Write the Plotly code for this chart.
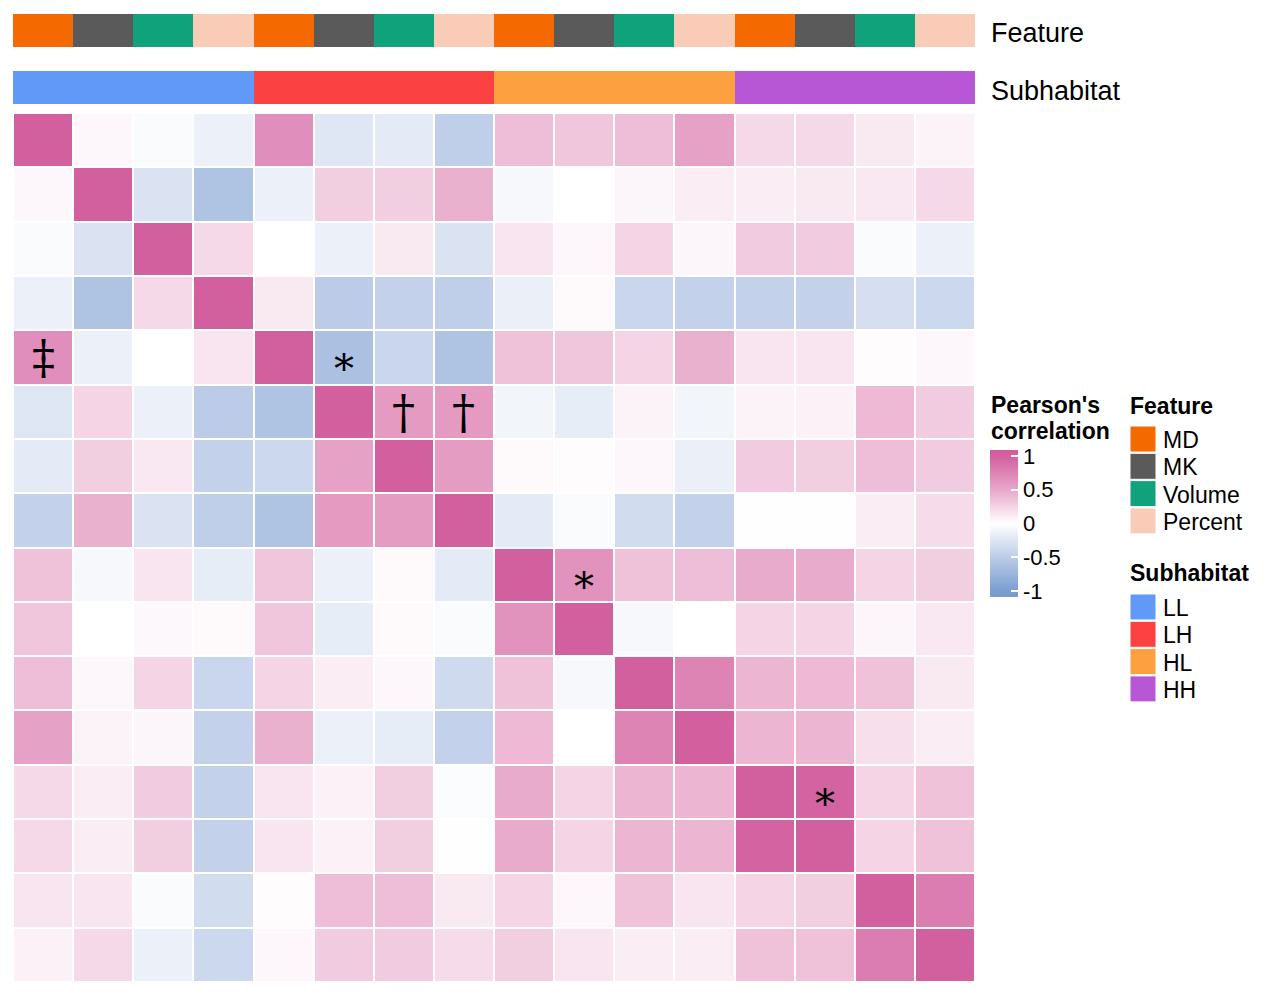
import plotly.graph_objects as go

W, H = 1268, 996
OFF = 8  # page body margin

features = ["MD", "MK", "Volume", "Percent"]
subhabitats = ["LL", "LH", "HL", "HH"]
feature_colors = ["#F46A00", "#5A5A5A", "#10A27B", "#F9CCB8"]
sub_colors = ["#6199F9", "#FB4141", "#FCA040", "#B757D6"]

# column / row order: subhabitat blocks, features inside each block
col_feature = [0, 1, 2, 3] * 4
col_sub = [0] * 4 + [1] * 4 + [2] * 4 + [3] * 4
labels = [f"{subhabitats[s]}_{features[f]}" for s, f in zip(col_sub, col_feature)]

corr = [
    [1.00, 0.05, -0.04, -0.14, 0.68, -0.24, -0.20, -0.47, 0.38, 0.33, 0.38, 0.55, 0.22, 0.22, 0.12, 0.07],
    [0.05, 1.00, -0.27, -0.60, -0.14, 0.28, 0.28, 0.45, -0.07, 0.00, 0.06, 0.10, 0.10, 0.12, 0.13, 0.22],
    [-0.04, -0.27, 1.00, 0.22, 0.00, -0.14, 0.12, -0.27, 0.15, 0.05, 0.25, 0.06, 0.30, 0.30, -0.04, -0.14],
    [-0.14, -0.60, 0.22, 1.00, 0.12, -0.51, -0.45, -0.47, -0.16, 0.03, -0.40, -0.45, -0.45, -0.45, -0.31, -0.38],
    [0.68, -0.14, 0.00, 0.15, 1.00, -0.62, -0.40, -0.60, 0.35, 0.33, 0.25, 0.45, 0.15, 0.15, 0.02, 0.05],
    [-0.24, 0.25, -0.14, -0.51, -0.60, 1.00, 0.60, 0.60, -0.10, -0.18, 0.07, -0.10, 0.07, 0.08, 0.40, 0.30],
    [-0.20, 0.28, 0.13, -0.45, -0.38, 0.55, 1.00, 0.58, 0.03, 0.02, 0.05, -0.16, 0.30, 0.28, 0.38, 0.30],
    [-0.45, 0.45, -0.27, -0.47, -0.60, 0.60, 0.58, 1.00, -0.20, -0.04, -0.34, -0.45, -0.01, -0.01, 0.10, 0.20],
    [0.35, -0.07, 0.15, -0.18, 0.33, -0.14, 0.03, -0.20, 1.00, 0.65, 0.35, 0.38, 0.48, 0.48, 0.25, 0.28],
    [0.33, 0.00, 0.04, 0.03, 0.33, -0.18, 0.03, -0.04, 0.65, 1.00, -0.07, 0.00, 0.25, 0.25, 0.06, 0.13],
    [0.38, 0.05, 0.25, -0.40, 0.25, 0.10, 0.05, -0.36, 0.35, -0.07, 1.00, 0.75, 0.42, 0.40, 0.35, 0.12],
    [0.55, 0.07, 0.06, -0.45, 0.45, -0.14, -0.18, -0.45, 0.40, 0.00, 0.75, 1.00, 0.42, 0.42, 0.18, 0.10],
    [0.22, 0.10, 0.30, -0.45, 0.15, 0.08, 0.28, -0.03, 0.48, 0.25, 0.42, 0.42, 1.00, 0.98, 0.25, 0.35],
    [0.22, 0.10, 0.28, -0.45, 0.15, 0.08, 0.28, -0.01, 0.48, 0.25, 0.42, 0.42, 0.98, 1.00, 0.25, 0.35],
    [0.15, 0.15, -0.04, -0.34, 0.02, 0.38, 0.38, 0.12, 0.25, 0.05, 0.35, 0.15, 0.25, 0.28, 1.00, 0.80],
    [0.08, 0.22, -0.14, -0.38, 0.05, 0.30, 0.30, 0.20, 0.28, 0.15, 0.10, 0.10, 0.35, 0.35, 0.80, 1.00],
]

# significance marks: (row, col, symbol)
marks = [(4, 0, "‡"), (4, 5, "*"), (5, 6, "†"), (5, 7, "†"), (8, 9, "*"), (12, 13, "*")]

FONT = "Liberation Sans, Arial, sans-serif"
ZLIM = 1.09  # colour bar reaches a bit past -1 / 1, like the reference


def px_x(p):
    return (p - OFF) / W


def px_y(p):
    return 1 - (p - OFF) / H


def discrete_scale(colors):
    n = len(colors)
    scale = []
    for i, c in enumerate(colors):
        scale.append([i / n, c])
        scale.append([(i + 1) / n, c])
    return scale


def pos(v):
    return (v + ZLIM) / (2 * ZLIM)


corr_scale = [
    [0, "#769ACE"],
    [pos(-1), "#7A9ED0"],
    [pos(-0.5), "#BCCCE8"],
    [pos(0), "#FFFFFF"],
    [pos(0.5), "#E8A8CA"],
    [pos(1), "#D2609F"],
    [1, "#CF5C9C"],
]

fig = go.Figure()

fig.add_trace(go.Heatmap(
    z=corr, x=labels, y=labels,
    zmin=-ZLIM, zmax=ZLIM,
    colorscale=corr_scale,
    xgap=2, ygap=2,
    colorbar=dict(
        x=px_x(990), xanchor="left", xpad=0,
        y=px_y(597), yanchor="bottom", len=(597 - 450) / H, lenmode="fraction",
        thickness=28, outlinewidth=0,
        tickvals=[-1, -0.5, 0, 0.5, 1], ticktext=["-1", "-0.5", "0", "0.5", "1"],
        ticks="inside", ticklen=7, tickcolor="white", tickwidth=1.5,
        tickfont=dict(family=FONT, size=22, color="black"), ypad=0,
    ),
    hovertemplate="%{y} vs %{x}: %{z:.2f}<extra></extra>",
))

fig.add_trace(go.Heatmap(
    z=[[i / 3 for i in col_feature]], x=labels, y=["Feature"],
    zmin=0, zmax=1, colorscale=discrete_scale(feature_colors),
    showscale=False, yaxis="y2", customdata=[[features[i] for i in col_feature]],
    hovertemplate="%{customdata}<extra></extra>",
))

fig.add_trace(go.Heatmap(
    z=[[i / 3 for i in col_sub]], x=labels, y=["Subhabitat"],
    zmin=0, zmax=1, colorscale=discrete_scale(sub_colors),
    showscale=False, yaxis="y3", customdata=[[subhabitats[i] for i in col_sub]],
    hovertemplate="%{customdata}<extra></extra>",
))

annotations = []
for r, c, sym in marks:
    is_star = sym == "*"
    annotations.append(dict(
        x=labels[c], y=labels[r], xref="x", yref="y", text=sym, showarrow=False,
        font=dict(family="DejaVu Serif, serif", size=40 if is_star else 46, color="black"),
        yshift=-11 if is_star else 0,
    ))

annotations.append(dict(x=px_x(989), y=px_y(33), xref="paper", yref="paper", text="Feature",
                        showarrow=False, xanchor="left", yanchor="middle",
                        font=dict(family=FONT, size=27, color="black")))
annotations.append(dict(x=px_x(989), y=px_y(91), xref="paper", yref="paper", text="Subhabitat",
                        showarrow=False, xanchor="left", yanchor="middle",
                        font=dict(family=FONT, size=27, color="black")))
for txt, yy in [("Pearson's", 405), ("correlation", 431)]:
    annotations.append(dict(x=px_x(989), y=px_y(yy), xref="paper", yref="paper",
                            text=f"<b>{txt}</b>", showarrow=False, xanchor="left",
                            yanchor="middle", font=dict(family=FONT, size=23, color="black")))

shapes = []


def legend_block(title, names, colors, title_y, first_y):
    annotations.append(dict(x=px_x(1128), y=px_y(title_y), xref="paper", yref="paper",
                            text=f"<b>{title}</b>", showarrow=False, xanchor="left",
                            yanchor="middle", font=dict(family=FONT, size=23, color="black")))
    for i, (name, col) in enumerate(zip(names, colors)):
        cy = first_y + i * 27.3
        shapes.append(dict(type="rect", xref="paper", yref="paper",
                           x0=px_x(1130), x1=px_x(1156), y0=px_y(cy + 13), y1=px_y(cy - 13),
                           fillcolor=col, line=dict(color="white", width=1)))
        annotations.append(dict(x=px_x(1161), y=px_y(cy + 1), xref="paper", yref="paper",
                                text=name, showarrow=False, xanchor="left", yanchor="middle",
                                font=dict(family=FONT, size=23, color="black")))


legend_block("Feature", features, feature_colors, 406, 439)
legend_block("Subhabitat", subhabitats, sub_colors, 573, 607)

hidden = dict(showgrid=False, showline=False, showticklabels=False, zeroline=False, ticks="")

fig.update_layout(
    width=W, height=H,
    margin=dict(l=0, r=0, t=0, b=0),
    paper_bgcolor="white", plot_bgcolor="white",
    xaxis=dict(domain=[px_x(13), px_x(975)], **hidden),
    yaxis=dict(domain=[px_y(982), px_y(113)], autorange="reversed", **hidden),
    yaxis2=dict(domain=[px_y(47), px_y(14)], anchor="x", **hidden),
    yaxis3=dict(domain=[px_y(104), px_y(71)], anchor="x", **hidden),
    annotations=annotations,
    shapes=shapes,
    showlegend=False,
)

fig.write_html("out.html")
